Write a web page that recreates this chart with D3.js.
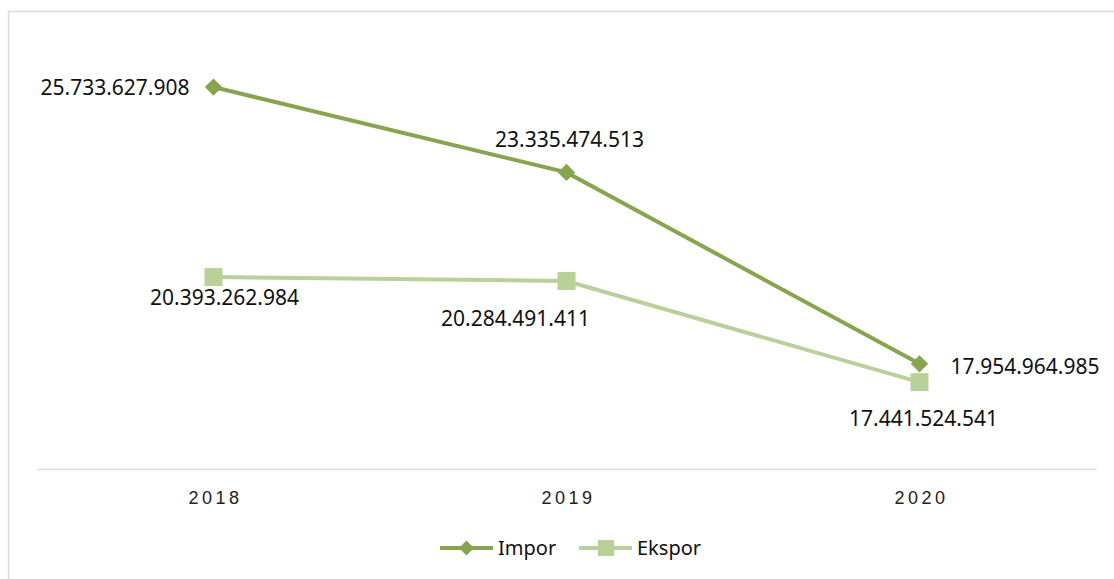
<!DOCTYPE html>
<html>
<head>
<meta charset="utf-8">
<script src="https://cdn.jsdelivr.net/npm/d3@7"></script>
<style>
  html, body { margin: 0; padding: 0; background: #fff; }
  svg { display: block; font-family: "Noto Sans", "Open Sans", sans-serif; }
</style>
</head>
<body>
<div id="chart"></div>
<script>
// data
const years = ["2018", "2019", "2020"];
const impor = [25733627908, 23335474513, 17954964985];
const ekspor = [20393262984, 20284491411, 17441524541];
const seriesNames = ["Impor", "Ekspor"];

const width = 1114, height = 579;
const margin = {left: 37, right: 18, top: 42, bottom: 110};

const svg = d3.select("#chart").append("svg")
    .attr("width", width)
    .attr("height", height);

// chart frame
svg.append("rect")
    .attr("x", 8.5).attr("y", 11.5)
    .attr("width", width + 20).attr("height", height + 20)
    .attr("fill", "none")
    .attr("stroke", "#d9d9d9")
    .attr("stroke-width", 1.5);

const xScale = d3.scaleBand()
    .domain(years)
    .range([margin.left, width - margin.right])
    .padding(0);
const xc = d => xScale(d) + xScale.bandwidth() / 2;

const yScale = d3.scaleLinear()
    .domain([15e9, 27e9])
    .range([height - margin.bottom, margin.top]);

//xAxis code
const xAxis = svg.append("g")
    .attr("transform", "translate(0," + yScale(15e9) + ")")
    .call(d3.axisBottom(xScale).tickSize(0).tickPadding(22));
xAxis.select(".domain").attr("stroke", "#d9d9d9").attr("stroke-width", 1.5);
xAxis.selectAll("text")
    .attr("font-size", 18)
    .attr("letter-spacing", "3.5px")
    .attr("dx", "2px")
    .attr("fill", "#222");

const fmt = v => d3.format(",")(v).replace(/,/g, ".");

const colImpor = "#86a54e";
const colEkspor = "#b9d198";

const line = d3.line()
    .x((d, i) => xc(years[i]))
    .y(d => yScale(d));

svg.append("path").datum(ekspor)
    .attr("d", line).attr("fill", "none")
    .attr("stroke", colEkspor).attr("stroke-width", 4);
svg.append("path").datum(impor)
    .attr("d", line).attr("fill", "none")
    .attr("stroke", colImpor).attr("stroke-width", 4);

const diamond = d3.symbol().type(d3.symbolSquare).size(150);

svg.selectAll(".sq").data(ekspor).join("rect")
    .attr("class", "sq")
    .attr("x", (d, i) => xc(years[i]) - 9)
    .attr("y", d => yScale(d) - 9)
    .attr("width", 18).attr("height", 18)
    .attr("fill", colEkspor);

svg.selectAll(".dm").data(impor).join("path")
    .attr("class", "dm")
    .attr("d", diamond)
    .attr("transform", (d, i) => "translate(" + xc(years[i]) + "," + yScale(d) + ") rotate(45)")
    .attr("fill", colImpor);

// data labels (placement offsets in px relative to the point)
const imporLabelPos = [[-24, 8, "end"], [3, -25, "middle"], [31, 10, "start"]];
const eksporLabelPos = [[11, 28, "middle"], [-51, 45, "middle"], [4, 44, "middle"]];

function labels(vals, pos) {
  svg.append("g").selectAll("text").data(vals).join("text")
    .attr("x", (d, i) => xc(years[i]) + pos[i][0])
    .attr("y", (d, i) => yScale(d) + pos[i][1])
    .attr("text-anchor", (d, i) => pos[i][2])
    .attr("font-size", 21)
    .attr("fill", "#111")
    .text(d => fmt(d));
}
labels(impor, imporLabelPos);
labels(ekspor, eksporLabelPos);

// legend
const legend = svg.append("g").attr("transform", "translate(440,548)");
const items = legend.selectAll("g").data(seriesNames).join("g")
    .attr("transform", (d, i) => "translate(" + (i * 139) + ",0)");
items.append("line")
    .attr("x1", 0).attr("x2", 53)
    .attr("stroke", (d, i) => i === 0 ? colImpor : colEkspor)
    .attr("stroke-width", 4);
items.filter((d, i) => i === 0).append("path")
    .attr("d", d3.symbol().type(d3.symbolSquare).size(110))
    .attr("transform", "translate(26.5,0) rotate(45)")
    .attr("fill", colImpor);
items.filter((d, i) => i === 1).append("rect")
    .attr("x", 19).attr("y", -8).attr("width", 16).attr("height", 16)
    .attr("fill", colEkspor);
items.append("text")
    .attr("x", 58).attr("y", 7)
    .attr("font-size", 20)
    .attr("fill", "#111")
    .text(d => d);
</script>
</body>
</html>
